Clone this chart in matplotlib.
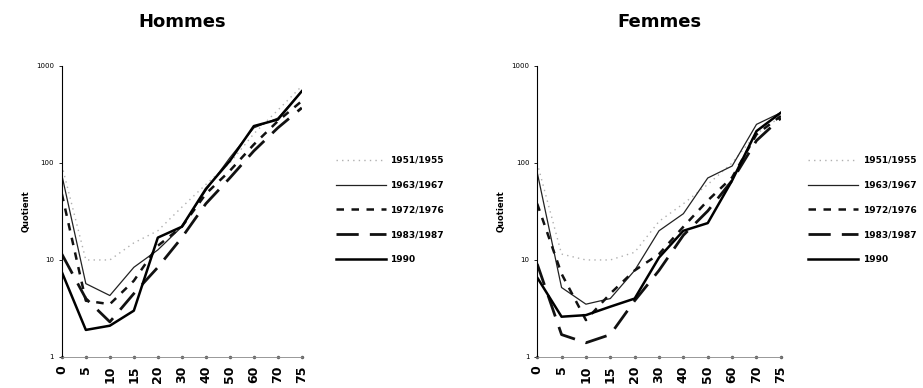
import matplotlib.pyplot as plt

ages = ["0", "5", "10", "15", "20", "30", "40", "50", "60", "70", "75"]
periods = ["1951/1955", "1963/1967", "1972/1976", "1983/1987", "1990"]

# Quotients (per 1000)
hommes = {
    "1951/1955": [95, 10, 10, 15, 20, 35, 60, 100, 200, 350, 620],
    "1963/1967": [75, 5.7, 4.3, 8.4, 12.7, 22, 52, 113, 230, 290, 550],
    "1972/1976": [48, 3.8, 3.5, 6.1, 14, 22, 48, 83, 155, 270, 435],
    "1983/1987": [11.5, 4.0, 2.3, 4.5, 8.4, 17, 38, 70, 133, 230, 370],
    "1990": [7.5, 1.9, 2.1, 3.0, 17, 22, 54, 105, 240, 280, 550],
}
femmes = {
    "1951/1955": [100, 11.5, 10, 10, 12, 25, 38, 60, 100, 200, 300],
    "1963/1967": [80, 5.2, 3.5, 4.0, 7.8, 20, 30, 70, 93, 250, 330],
    "1972/1976": [38, 7.2, 2.4, 4.5, 7.8, 11.5, 22, 41, 71, 197, 305],
    "1983/1987": [9.1, 1.7, 1.4, 1.7, 3.8, 7.8, 18, 32, 66, 170, 290],
    "1990": [6.6, 2.6, 2.7, 3.3, 4.0, 10.6, 20, 24, 66, 213, 330],
}

styles = {
    "1951/1955": dict(color="#b0b0b0", lw=1.0, dashes=(1, 3)),
    "1963/1967": dict(color="#222222", lw=0.9),
    "1972/1976": dict(color="#111111", lw=1.8, dashes=(3, 3)),
    "1983/1987": dict(color="#111111", lw=2.0, dashes=(8, 4)),
    "1990": dict(color="#000000", lw=1.8),
}

fig = plt.figure(figsize=(9.23, 3.88), dpi=100)
axes = [fig.add_axes([0.067, 0.08, 0.26, 0.75]),
        fig.add_axes([0.582, 0.08, 0.264, 0.75])]
legend_x = [1.11, 1.08]

x = list(range(len(ages)))
for ax, data, title, lx in zip(axes, [hommes, femmes], ["Hommes", "Femmes"], legend_x):
    for p in periods:
        ax.plot(x, data[p], label=p, **styles[p])
    ax.set_yscale("log")
    ax.set_ylim(1, 1000)
    ax.set_xlim(0, len(ages) - 1)
    ax.set_yticks([1, 10, 100, 1000])
    ax.set_yticklabels(["1", "10", "100", "1000"], fontsize=5)
    ax.minorticks_off()
    ax.set_xticks(x)
    ax.set_xticklabels(ages, rotation=90, fontsize=9, fontweight="bold")
    ax.tick_params(axis="x", length=0, pad=6)
    ax.tick_params(axis="y", length=2, width=0.6)
    # dotted baseline at 1 as in the original print
    ax.plot(x, [1] * len(x), ls="none", marker="o", ms=1.5, color="#666666", clip_on=False)
    for s in ["top", "right"]:
        ax.spines[s].set_visible(False)
    ax.spines["bottom"].set_color("#888888")
    ax.spines["bottom"].set_linewidth(0.6)
    ax.spines["left"].set_linewidth(0.8)
    ax.set_ylabel("Quotient", fontsize=6, fontweight="bold")
    ax.set_title(title, fontsize=13, fontweight="bold", pad=28)
    ax.legend(loc="center left", bbox_to_anchor=(lx, 0.505), frameon=False,
              prop={"size": 6.5, "weight": "bold"}, handlelength=5.5,
              handletextpad=0.5, labelspacing=1.75)

fig.savefig("out.png", dpi=100)
